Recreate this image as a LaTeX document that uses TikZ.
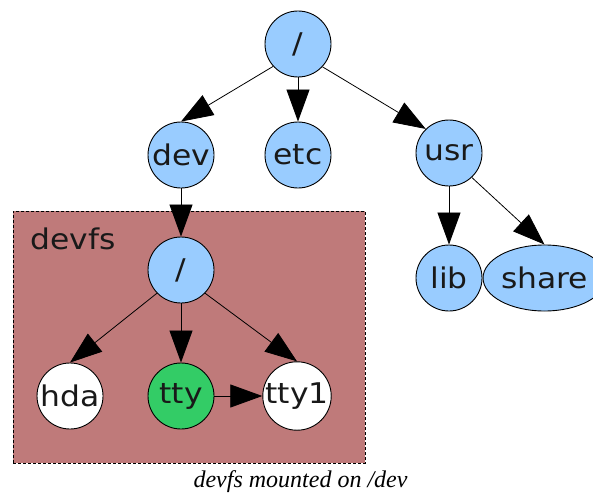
\documentclass[tikz,border=0pt]{standalone}
\usepackage{fontspec}
\setmainfont{Liberation Serif}
\newfontfamily\nodefont[FakeStretch=1.1]{DejaVu Sans}
\usetikzlibrary{arrows.meta,shapes.geometric}
\definecolor{nblue}{RGB}{153,204,255}
\definecolor{ngreen}{RGB}{51,204,102}
\definecolor{boxfill}{RGB}{191,122,122}
\definecolor{txt}{RGB}{25,25,25}
\tikzset{
  fsnode/.style={circle, draw=black, line width=0.9pt, minimum size=66pt, inner sep=0pt,
    text=txt, font=\nodefont\fontsize{28.5}{30}\selectfont},
  bluenode/.style={fsnode, fill=nblue},
  whitenode/.style={fsnode, fill=white},
  greennode/.style={fsnode, fill=ngreen},
  ellnode/.style={ellipse, draw=black, line width=0.9pt, fill=nblue, minimum width=95pt,
    minimum height=66pt, inner sep=0pt, text=txt, font=\nodefont\fontsize{28.5}{30}\selectfont},
  edge/.style={line width=0.8pt, -{Triangle[length=32pt,width=23pt]}},
  cluster/.style={draw=black, line width=0.9pt, dash pattern=on 3pt off 2pt, fill=boxfill}
}
\begin{document}
\begin{tikzpicture}[x=1pt,y=-1pt]
\useasboundingbox (0,0) rectangle (593,492);
\fill[white] (0,0) rectangle (593,492);
% cluster
\node[cluster, minimum width=352pt, minimum height=252pt, anchor=north west, inner sep=0pt] (box) at (13,211) {};
\node[text=txt, font=\nodefont\fontsize{28.5}{30}\selectfont, anchor=base] (lbl) at (73,249) {devfs};
% nodes
\node[bluenode] (root) at (298,44) {/};
\node[bluenode] (dev) at (181,155) {dev};
\node[bluenode] (etc) at (298,155) {etc};
\node[bluenode] (usr) at (449,153) {usr};
\node[bluenode] (lib) at (449,278) {lib};
\node[ellnode] (share) at (544.5,278) {share};
\node[bluenode] (droot) at (181,270) {/};
\node[whitenode] (hda) at (70,396) {hda};
\node[greennode] (tty) at (181,396) {tty};
\node[whitenode] (tty1) at (297,396) {tty1};
% edges
\draw[edge] (root.222) -- (dev.north);
\draw[edge] (root.south) -- (etc.north);
\draw[edge] (root.317) -- (usr.134);
\draw[edge] (usr.south) -- (lib.north);
\draw[edge] (usr.313) -- (share.north);
\draw[edge] (dev.south) -- (droot.north);
\draw[edge] (droot.224) -- (hda.north);
\draw[edge] (droot.south) -- (tty.north);
\draw[edge] (droot.316) -- (tty1.north);
\draw[edge] (tty.east) -- (tty1.west);
% caption
\node[font=\itshape\fontsize{24}{26}\selectfont, anchor=base] (cap) at (300.5,487) {devfs mounted on /dev};
\end{tikzpicture}
\end{document}
